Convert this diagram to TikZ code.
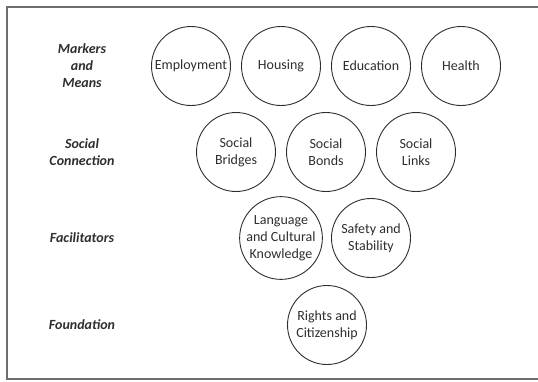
\documentclass[tikz,border=0pt]{standalone}
\usepackage{fontspec}
\setmainfont{Carlito}
\definecolor{ink}{HTML}{2E2E2E}
\definecolor{framegray}{HTML}{6E6E6E}
\begin{document}
\begin{tikzpicture}[x=1pt,y=-1pt,
  ringnode/.style={circle,draw=ink,line width=0.9pt,minimum size=79pt,inner sep=0pt,
    align=center,text=ink,font=\fontsize{14}{17}\selectfont},
  tierlabel/.style={align=center,text=ink,font=\fontsize{14}{17}\selectfont\bfseries\itshape}]
\useasboundingbox (0,0) rectangle (538,381);
\clip (0,0) rectangle (538,381);
% outer frame (open on the right)
\draw[framegray,line width=1.6pt] (545,7) -- (7,7) -- (7,379) -- (545,379);

% tier labels
\node[tierlabel] (lmm) at (82,66) {Markers\\and\\Means};
\node[tierlabel] (lsc) at (82,152) {Social\\Connection};
\node[tierlabel] (lfa) at (82,238) {Facilitators};
\node[tierlabel] (lfo) at (82,325) {Foundation};

% markers and means
\node[ringnode] (emp) at (191,66) {Employment};
\node[ringnode] (hou) at (281,66) {Housing};
\node[ringnode] (edu) at (371,66) {Education};
\node[ringnode] (hea) at (461,66) {Health};

% social connection
\node[ringnode] (bri) at (236,152) {Social\\Bridges};
\node[ringnode] (bon) at (326,152) {Social\\Bonds};
\node[ringnode] (lin) at (416,152) {Social\\Links};

% facilitators
\node[ringnode] (lan) at (281,238) {Language\\and Cultural\\Knowledge};
\node[ringnode] (saf) at (371,238) {Safety and\\Stability};

% foundation
\node[ringnode] (rig) at (327,325) {Rights and\\Citizenship};
\end{tikzpicture}
\end{document}
